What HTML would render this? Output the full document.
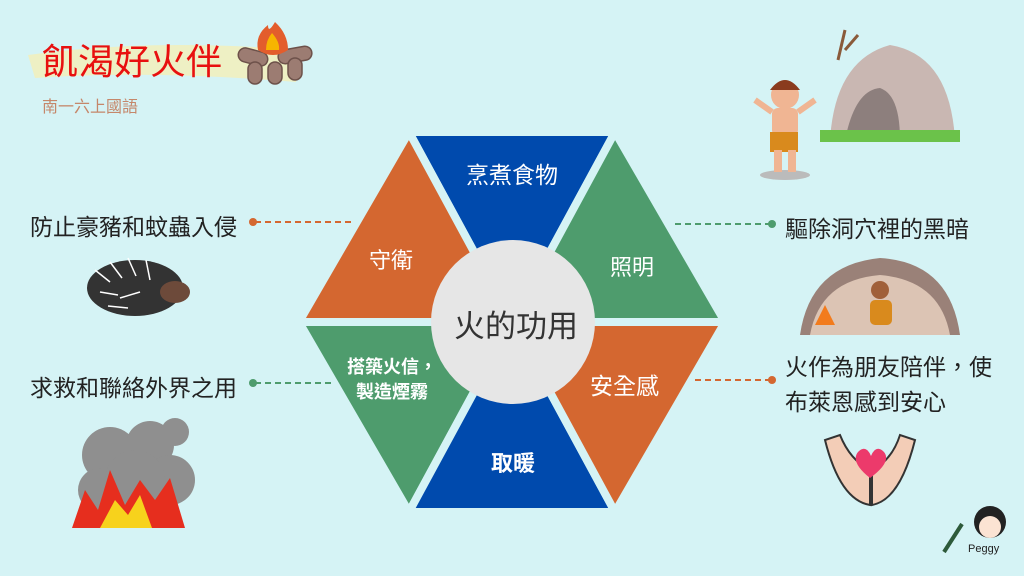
<!DOCTYPE html>
<html><head><meta charset="utf-8"><style>
body{margin:0;width:1024px;height:576px;overflow:hidden;background:#d5f3f5;font-family:"Liberation Sans","Noto Sans CJK TC",sans-serif;position:relative}
.t{position:absolute;white-space:nowrap;color:#222}
</style></head><body>
<svg width="1024" height="576" style="position:absolute;left:0;top:0">
<path d="M28 55 Q150 38 300 50 L296 82 Q150 70 35 78 Z" fill="#eef0c4"/>
<g fill="#9c7c72" stroke="#6d514a" stroke-width="1.5">
<rect x="238" y="50" width="30" height="14" rx="7" transform="rotate(15 253 57)"/>
<rect x="278" y="48" width="34" height="14" rx="7" transform="rotate(-10 295 55)"/>
<rect x="248" y="62" width="14" height="22" rx="7"/><rect x="268" y="62" width="14" height="22" rx="7"/><rect x="288" y="58" width="14" height="22" rx="7"/>
</g>
<path d="M258 50 Q255 35 268 25 Q268 34 275 22 Q288 34 288 50 Q273 60 258 50Z" fill="#e35d2c"/>
<path d="M266 50 Q266 40 272 33 Q280 42 279 50Z" fill="#f7b500"/>
<g stroke="#d5f3f5" stroke-width="8" stroke-linejoin="miter">
<polygon points="409,132 615,132 512,322" fill="#004aad"/>
<polygon points="409,132 299,322 512,322" fill="#d46730"/>
<polygon points="615,132 725,322 512,322" fill="#4e9c6d"/>
<polygon points="299,322 409,512 512,322" fill="#4e9c6d"/>
<polygon points="409,512 615,512 512,322" fill="#004aad"/>
<polygon points="725,322 615,512 512,322" fill="#d46730"/>
</g>
<circle cx="513" cy="322" r="82" fill="#e6e6e6"/>
<g stroke-width="2" stroke-dasharray="6 4">
<line x1="255" y1="222" x2="352" y2="222" stroke="#d46730"/>
<line x1="255" y1="383" x2="335" y2="383" stroke="#4e9c6d"/>
<line x1="675" y1="224" x2="770" y2="224" stroke="#4e9c6d"/>
<line x1="695" y1="380" x2="770" y2="380" stroke="#d46730"/>
</g>
<circle cx="253" cy="222" r="4" fill="#d46730"/><circle cx="253" cy="383" r="4" fill="#4e9c6d"/>
<circle cx="772" cy="224" r="4" fill="#4e9c6d"/><circle cx="772" cy="380" r="4" fill="#d46730"/>
<ellipse cx="135" cy="288" rx="48" ry="28" fill="#333"/>
<g stroke="#fff" stroke-width="1.5"><line x1="95" y1="270" x2="110" y2="282"/><line x1="110" y1="262" x2="122" y2="278"/><line x1="128" y1="258" x2="136" y2="276"/><line x1="146" y1="260" x2="150" y2="280"/><line x1="100" y1="292" x2="118" y2="295"/><line x1="120" y1="298" x2="140" y2="292"/><line x1="108" y1="306" x2="128" y2="308"/></g>
<ellipse cx="175" cy="292" rx="15" ry="11" fill="#6d4a3a"/>
<g fill="#8f8f8f"><circle cx="110" cy="455" r="28"/><circle cx="150" cy="445" r="24"/><circle cx="170" cy="480" r="25"/><circle cx="100" cy="490" r="22"/><circle cx="135" cy="480" r="30"/><circle cx="175" cy="432" r="14"/></g>
<path d="M72 528 L85 490 L98 510 L110 470 L125 505 L140 480 L155 500 L170 478 L185 528Z" fill="#e62e1e"/>
<path d="M100 528 L115 500 L128 515 L140 495 L152 528Z" fill="#f7d21c"/>
<path d="M830 140 Q835 60 890 45 Q950 55 955 140Z" fill="#c9b7b2"/>
<path d="M845 140 Q855 90 880 88 Q900 95 900 140Z" fill="#8d7f7d"/>
<path d="M838 60 L845 30 M845 50 L858 35" stroke="#8a5a3a" stroke-width="3"/>
<rect x="820" y="130" width="140" height="12" fill="#6bc24a"/>
<ellipse cx="785" cy="175" rx="25" ry="5" fill="#bbb"/>
<circle cx="785" cy="95" r="14" fill="#f0b593"/><path d="M770 90 Q785 70 800 90" fill="#8a3b1e"/>
<rect x="772" y="108" width="26" height="28" rx="6" fill="#f0b593"/>
<rect x="770" y="132" width="28" height="20" fill="#d98a1d"/>
<rect x="774" y="150" width="8" height="22" fill="#f0b593"/><rect x="788" y="150" width="8" height="22" fill="#f0b593"/>
<line x1="772" y1="112" x2="755" y2="100" stroke="#f0b593" stroke-width="6"/><line x1="798" y1="112" x2="815" y2="100" stroke="#f0b593" stroke-width="6"/>
<path d="M800 335 Q810 265 880 258 Q950 262 960 335Z" fill="#9a8178"/>
<path d="M810 335 Q820 280 880 275 Q940 280 950 335Z" fill="#dcc4b4"/>
<circle cx="880" cy="290" r="9" fill="#a0603a"/><rect x="870" y="300" width="22" height="25" rx="5" fill="#d98a1d"/>
<path d="M815 325 L825 305 L835 325Z" fill="#f27b1d"/>
<path d="M825 440 Q840 500 870 505 L870 470 Q850 460 840 435Z" fill="#f3cdb7" stroke="#333" stroke-width="2"/>
<path d="M915 440 Q900 500 872 505 L872 470 Q892 460 900 435Z" fill="#f3cdb7" stroke="#333" stroke-width="2"/>
<path d="M870 478 Q850 462 858 452 Q866 444 871 456 Q876 444 884 452 Q892 462 870 478Z" fill="#ec3a6b"/>
<circle cx="990" cy="522" r="16" fill="#222"/><circle cx="990" cy="527" r="11" fill="#fbe3d3"/>
<line x1="944" y1="552" x2="962" y2="524" stroke="#2d5a3a" stroke-width="4"/>
</svg>
<div class="t" style="left:42px;top:33px;font-size:36px;color:#e8100f">飢渴好火伴</div>
<div class="t" style="left:42px;top:93px;font-size:16px;color:#c5876a">南一六上國語</div>
<div class="t" style="left:466px;top:156px;font-size:23px;color:#fff">烹煮食物</div>
<div class="t" style="left:369px;top:243px;font-size:22px;color:#fff">守衛</div>
<div class="t" style="left:610px;top:250px;font-size:22px;color:#fff">照明</div>
<div class="t" style="left:454px;top:301px;font-size:31px;color:#333">火的功用</div>
<div class="t" style="left:347px;top:355px;font-size:18px;font-weight:bold;color:#fff;line-height:25px;text-align:center">搭築火信，<br>製造煙霧</div>
<div class="t" style="left:590px;top:367px;font-size:23px;color:#fff">安全感</div>
<div class="t" style="left:491px;top:446px;font-size:22px;font-weight:bold;color:#fff">取暖</div>
<div class="t" style="left:30px;top:208px;font-size:23px">防止豪豬和蚊蟲入侵</div>
<div class="t" style="left:30px;top:369px;font-size:23px">求救和聯絡外界之用</div>
<div class="t" style="left:785px;top:210px;font-size:23px">驅除洞穴裡的黑暗</div>
<div class="t" style="left:785px;top:350px;font-size:23px;line-height:35px">火作為朋友陪伴，使<br>布萊恩感到安心</div>
<div class="t" style="left:968px;top:543px;font-size:11px">Peggy</div>
</body></html>
